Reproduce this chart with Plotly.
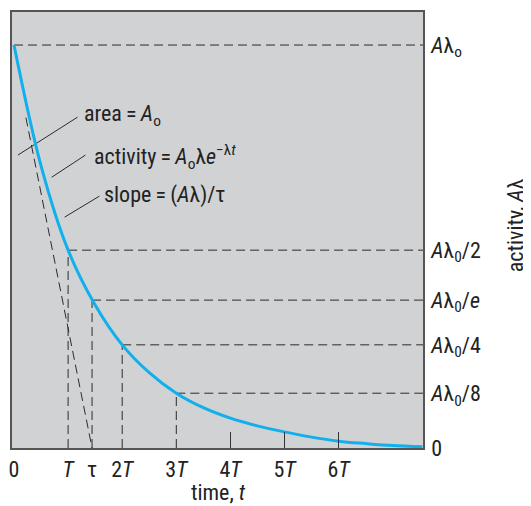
import plotly.graph_objects as go

# ---- data (time in units of half-life T, activity relative to A*lambda_0) ----
curve_t = [0, 0.5, 1, 1.5, 2, 2.5, 3, 3.5, 4, 4.5, 5, 5.5, 6, 6.5, 7, 7.55]
curve_a = [1.0, 0.70, 0.491, 0.355, 0.256, 0.187, 0.136, 0.10, 0.074, 0.055, 0.04,
           0.027, 0.017, 0.011, 0.006, 0.003]

level_t = [1, 1.4427, 2, 3]            # T, tau, 2T, 3T
level_a = [0.491, 0.367, 0.256, 0.136]  # A/2, A/e, A/4, A/8 (as drawn)

tangent_t = [0.22, 1.4427]
tangent_a = [0.82, 0.0]

x_max = 7.56
x_min = -0.037
y_max = 1.082

x_tickvals = [0, 1, 1.4427, 2, 3, 4, 5, 6]
x_ticktext = ["0", "<i>T</i>", "τ", "2<i>T</i>", "3<i>T</i>", "4<i>T</i>", "5<i>T</i>", "6<i>T</i>"]
x_minor_ticks = [4, 5, 6]

y_tickvals = [1.0] + level_a + [0.0]
y_ticktext = ["<i>A</i>λ<sub>o</sub>", "<i>A</i>λ<sub>0</sub>/2", "<i>A</i>λ<sub>0</sub>/<i>e</i>",
              "<i>A</i>λ<sub>0</sub>/4", "<i>A</i>λ<sub>0</sub>/8", "0"]

# leader lines: [(x0, y0, x1, y1)] in data units, with their labels
leader_lines = [
    (0.073, 0.727, 1.174, 0.821),
    (0.697, 0.672, 1.321, 0.727),
    (0.936, 0.573, 1.578, 0.625),
]
label_pos = [(1.266, 0.826), (1.45, 0.722), (1.633, 0.628)]
label_text = [
    "area\u2009=\u2009<i>A</i><sub>o</sub>",
    "activity\u2009=\u2009<i>A</i><sub>o</sub>λ<i>e</i><sup>−λ<i>t</i></sup>",
    "slope\u2009=\u2009(<i>A</i>λ)/τ",
]

FONT = "Roboto Condensed, Liberation Sans Narrow, Roboto, sans-serif"
FS = 22
DASH_COLOR = "#2b2b2b"
BG = "#d1d2d4"
CURVE = "#0fb0ec"
DASH = "9px,5px"

fig = go.Figure()

# top dashed line at A*lambda_0
fig.add_trace(go.Scatter(x=[0, x_max], y=[1.0, 1.0], mode="lines",
                         line=dict(color=DASH_COLOR, width=1, dash=DASH),
                         hoverinfo="skip", showlegend=False))

# horizontal and vertical dashed guides
for t, a in zip(level_t, level_a):
    fig.add_trace(go.Scatter(x=[t, x_max], y=[a, a], mode="lines",
                             line=dict(color=DASH_COLOR, width=1, dash=DASH),
                             hoverinfo="skip", showlegend=False))
    fig.add_trace(go.Scatter(x=[t, t], y=[0, a], mode="lines",
                             line=dict(color=DASH_COLOR, width=1, dash=DASH),
                             hoverinfo="skip", showlegend=False))

# tangent line
fig.add_trace(go.Scatter(x=tangent_t, y=tangent_a, mode="lines",
                         line=dict(color=DASH_COLOR, width=1, dash=DASH),
                         hoverinfo="skip", showlegend=False))

# leader lines
for x0, y0, x1, y1 in leader_lines:
    fig.add_trace(go.Scatter(x=[x0, x1], y=[y0, y1], mode="lines",
                             line=dict(color=DASH_COLOR, width=1),
                             hoverinfo="skip", showlegend=False))

# decay curve (on overlay axis so that the inner ticks axis is drawn)
fig.add_trace(go.Scatter(x=curve_t, y=curve_a, mode="lines", xaxis="x2",
                         line=dict(color=CURVE, width=3, shape="spline", smoothing=1.0),
                         hoverinfo="skip", showlegend=False))

for (x, y), txt in zip(label_pos, label_text):
    fig.add_annotation(x=x, y=y, xref="x", yref="y", text=txt, showarrow=False,
                       xanchor="left", yanchor="middle",
                       font=dict(family=FONT, size=FS, color="#222"))

# axis titles
fig.add_annotation(x=0.502, y=-0.103, xref="paper", yref="paper", text="time, <i>t</i>",
                   showarrow=False, xanchor="center", yanchor="middle",
                   font=dict(family=FONT, size=FS, color="#222"))
fig.add_annotation(x=1.224, y=0.511, xref="paper", yref="paper", text="activity, <i>A</i>λ",
                   showarrow=False, textangle=-90, xanchor="center", yanchor="middle",
                   font=dict(family=FONT, size=FS, color="#222"))

fig.update_layout(
    width=523, height=498, autosize=False,
    margin=dict(l=1, r=108, t=4, b=58),
    paper_bgcolor="white", plot_bgcolor=BG,
    font=dict(family=FONT, size=FS, color="#222"),
    xaxis=dict(range=[x_min, x_max], tickvals=x_tickvals, ticktext=x_ticktext,
               ticks="", showgrid=False, zeroline=False,
               showline=True, mirror=True, linecolor="#555", linewidth=1.5,
               ticklabelstandoff=1, ticklabeloverflow="allow"),
    xaxis2=dict(range=[x_min, x_max], overlaying="x", anchor="y", side="bottom",
                tickvals=x_minor_ticks, ticks="inside", ticklen=16, tickwidth=1,
                tickcolor="#333", showticklabels=False, showgrid=False,
                zeroline=False, showline=False),
    yaxis=dict(range=[0, y_max], side="right", tickvals=y_tickvals, ticktext=y_ticktext,
               ticks="", showgrid=False, zeroline=False,
               showline=True, mirror=True, linecolor="#555", linewidth=1.5,
               ticklabelstandoff=2, ticklabeloverflow="allow"),
)

fig.write_html("out.html")
